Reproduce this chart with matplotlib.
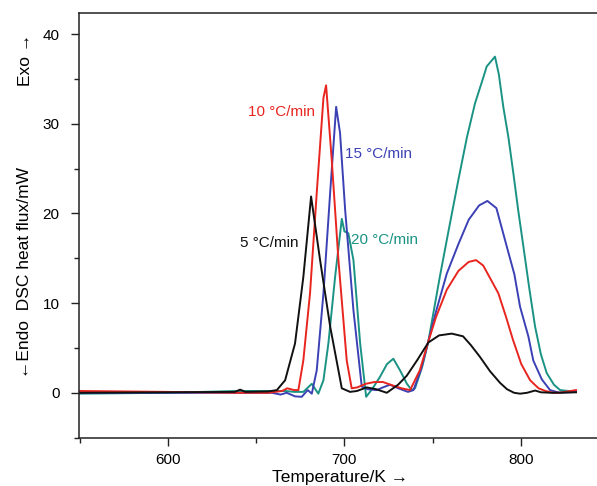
import matplotlib
matplotlib.use("Agg")
import matplotlib.pyplot as plt
from matplotlib.ticker import MultipleLocator

plt.rcParams['font.family'] = ['Liberation Sans', 'DejaVu Sans']

### DSC traces (T in K, heat flux in mW)
t_5 = [550, 599, 638, 641, 644, 657, 661.8, 666.5, 672.1, 676.8, 681.2, 686.3, 692.0, 698.6, 703.3,
       707.2, 712.7, 718.0, 724.1, 730.5, 735.4, 741.2, 747.6, 753.7, 760.9, 767.3, 771.8, 776.9,
       782.6, 788.3, 792.2, 796.2, 799.6, 803.6, 808.1, 811.5, 817.7, 831.3]
v_5 = [0.0, 0.05, 0.1, 0.35, 0.1, 0.15, 0.3, 1.4, 5.5, 12.9, 21.9, 14.8, 7.4, 0.5, 0.1,
       0.2, 0.6, 0.4, 0.0, 0.9, 1.9, 3.6, 5.6, 6.4, 6.6, 6.3, 5.3, 4.0,
       2.4, 1.1, 0.4, 0.0, -0.1, 0.0, 0.25, 0.05, 0.0, 0.05]

t_10 = [550, 599, 638, 657, 664.8, 667.7, 671.6, 674.0, 676.8, 680.6, 684.4, 688.2, 689.7, 692.9,
        696.7, 701.4, 704.2, 707.4, 712.2, 717.1, 721.9, 727.7, 732.5, 737.3, 742.8, 747.6, 751.9,
        758.1, 764.7, 770.5, 774.7, 778.7, 782.6, 787.3, 791.6, 795.6, 800.3, 805.3, 810.1, 814.0,
        818.3, 821.9, 831.3]
v_10 = [0.2, 0.1, 0.0, 0.0, 0.2, 0.5, 0.3, 0.3, 3.6, 11.1, 22.3, 32.9, 34.3, 26.0,
        14.8, 3.6, 0.5, 0.6, 1.0, 1.2, 1.2, 0.8, 0.5, 0.3, 2.5, 5.7, 8.4,
        11.5, 13.6, 14.6, 14.8, 14.2, 12.8, 11.1, 8.5, 5.9, 3.2, 1.4, 0.5, 0.2,
        0.0, 0.0, 0.3]

t_15 = [550, 599, 640, 659, 663.9, 667.4, 672.1, 675.9, 679.3, 681.6, 684.4, 688.2, 692.0, 695.4,
        697.6, 700.5, 705.2, 709.9, 713.2, 718.4, 721.9, 725.9, 730.6, 736.1, 739.2, 743.3, 747.6,
        751.9, 758.1, 764.7, 770.5, 776.4, 781.1, 786.2, 792.1, 796.4, 799.6, 804.3, 807.1, 811.9,
        816.6, 821.9, 831.3]
v_15 = [0.0, 0.0, 0.0, 0.0, -0.2, 0.0, -0.4, -0.45, 0.3, -0.1, 2.5, 11.1, 22.3, 31.9,
        29.0, 20.4, 9.2, 0.7, 0.4, 0.3, 0.6, 0.9, 0.5, 0.1, 0.3, 2.5, 5.7,
        9.0, 13.3, 16.6, 19.3, 20.9, 21.4, 20.6, 16.3, 13.2, 9.6, 6.3, 3.6, 1.5,
        0.3, 0.0, 0.1]

t_20 = [550, 599, 640, 666.7, 671.6, 676.8, 681.6, 685.3, 688.2, 691.0, 694.8, 698.6, 700.1, 702.3,
        705.2, 709.0, 712.4, 716.1, 720.3, 724.2, 727.8, 731.6, 735.5, 738.2, 740.1, 744.3, 747.6,
        754.2, 759.5, 764.6, 769.5, 774.1, 778.5, 780.7, 785.4, 787.6, 790.1, 793.0, 795.8, 798.6,
        801.5, 804.8, 808.1, 811.4, 814.7, 818.8, 822.3, 831.3]
v_20 = [-0.1, 0.0, 0.2, 0.2, 0.1, 0.1, 1.0, -0.1, 1.4, 5.5, 12.9, 19.4, 18.0, 17.8,
        14.8, 5.5, -0.45, 0.5, 1.8, 3.2, 3.8, 2.5, 1.0, 0.3, 0.5, 3.0, 5.7,
        13.0, 18.5, 23.7, 28.5, 32.3, 35.0, 36.4, 37.5, 35.5, 31.9, 28.5, 24.5, 20.3,
        16.3, 11.7, 7.4, 4.3, 2.2, 0.9, 0.3, 0.1]

labels = ['5 °C/min', '10 °C/min', '15 °C/min', '20 °C/min']
colors = ['#111111', '#e8251f', '#3b41b5', '#1a9384']

W, H = 597, 486
fig = plt.figure(figsize=(W / 100, H / 100), dpi=100)
ax = fig.add_axes([79 / W, (H - 437.6) / H, (W - 79) / W, (437.6 - 12.7) / H])

# draw order: teal and blue under red/black like the original
for t, v, c in [(t_20, v_20, colors[3]), (t_15, v_15, colors[2]),
                (t_10, v_10, colors[1]), (t_5, v_5, colors[0])]:
    ax.plot(t, v, color=c, lw=1.4)

ax.set_xlim(549.7, 843.2)
ax.set_ylim(-5.0, 42.4)
ax.xaxis.set_major_locator(MultipleLocator(100))
ax.xaxis.set_minor_locator(MultipleLocator(50))
ax.yaxis.set_major_locator(MultipleLocator(10))
ax.yaxis.set_minor_locator(MultipleLocator(5))
ax.spines['right'].set_visible(False)
for s in ['left', 'bottom', 'top']:
    ax.spines[s].set_linewidth(1.1)
    ax.spines[s].set_color('#222222')
ax.tick_params(which='major', direction='out', length=6, width=1.0, labelsize=11, color='#222222')
ax.tick_params(which='minor', direction='out', length=3.5, width=1.0, color='#222222')
ax.tick_params(axis='y', which='major', pad=8)
ax.tick_params(axis='x', which='major', pad=5)
ax.tick_params(top=False, right=False, which='both')

### curve labels
ax.annotate(labels[1], (683.5, 31.3), color=colors[1], fontsize=11, ha='right', va='center')
ax.annotate(labels[2], (700.5, 26.6), color=colors[2], fontsize=11, ha='left', va='center')
ax.annotate(labels[0], (674.0, 16.7), color=colors[0], fontsize=11, ha='right', va='center')
ax.annotate(labels[3], (703.7, 17.0), color=colors[3], fontsize=11, ha='left', va='center')

### axis titles
fig.text(25 / W, 1 - 272 / H, '←Endo  DSC heat flux/mW', rotation=90, fontsize=12.5,
         ha='center', va='center')
fig.text(25 / W, 1 - 60 / H, 'Exo →', rotation=90, fontsize=12.5, ha='center', va='center')
fig.text(340 / W, 1 - 482 / H, 'Temperature/K →', fontsize=12.5, ha='center', va='baseline')

fig.savefig('out.png', dpi=100)
